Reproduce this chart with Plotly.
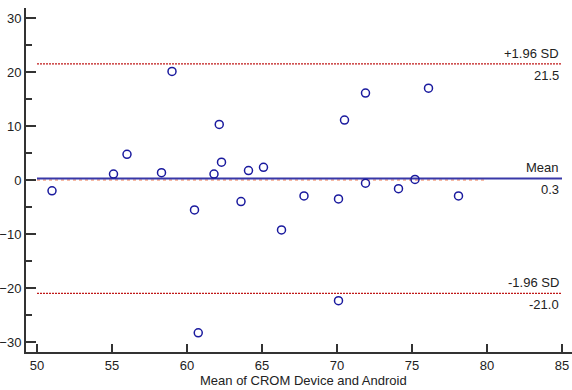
import plotly.graph_objects as go

mean_x = [51.0, 55.1, 56.0, 58.3, 59.0, 60.5, 60.75, 61.8, 62.15, 62.3, 63.6, 64.1,
          65.1, 66.3, 67.8, 70.1, 70.1, 70.5, 71.9, 71.9, 74.1, 75.2, 76.1, 78.1]
diff_y = [-2.0, 1.1, 4.75, 1.35, 20.1, -5.55, -28.3, 1.1, 10.3, 3.3, -4.0, 1.75,
          2.35, -9.25, -2.95, -3.5, -22.35, 11.1, 16.1, -0.6, -1.6, 0.1, 17.0, -2.95]

mean_diff = 0.3
upper_loa = 21.5
lower_loa = -21.0
line_x = [50, 85]
zero_x = [50, 80]

x_ticks = [50, 55, 60, 65, 70, 75, 80, 85]
y_ticks = [-30, -20, -10, 0, 10, 20, 30]

fig = go.Figure()

fig.add_trace(go.Scatter(x=zero_x, y=[0, 0], mode="lines",
                         line=dict(color="#F5A589", width=1.5, dash="dot"),
                         hoverinfo="skip", showlegend=False))
fig.add_trace(go.Scatter(x=line_x, y=[mean_diff, mean_diff], mode="lines",
                         line=dict(color="#3838A8", width=2),
                         hoverinfo="skip", showlegend=False))
fig.add_trace(go.Scatter(x=line_x, y=[upper_loa, upper_loa], mode="lines",
                         line=dict(color="#C01818", width=1.2, dash="2px,1px"),
                         hoverinfo="skip", showlegend=False))
fig.add_trace(go.Scatter(x=line_x, y=[lower_loa, lower_loa], mode="lines",
                         line=dict(color="#C01818", width=1.2, dash="2px,1px"),
                         hoverinfo="skip", showlegend=False))
fig.add_trace(go.Scatter(x=mean_x, y=diff_y, mode="markers",
                         marker=dict(symbol="circle-open", size=8,
                                     color="#1A1A9E", line=dict(width=1.5)),
                         showlegend=False))

font = dict(family="Arial, Liberation Sans, sans-serif", size=13, color="#222222")

labels = [("+1.96 SD", upper_loa, "bottom"), (f"{upper_loa:.1f}", upper_loa, "top"),
          ("Mean", mean_diff, "bottom"), (f"{mean_diff:.1f}", mean_diff, "top"),
          ("-1.96 SD", lower_loa, "bottom"), (f"{lower_loa:.1f}", lower_loa, "top")]
for txt, yv, anchor in labels:
    fig.add_annotation(x=85, y=yv, xref="x", yref="y", text=txt, showarrow=False,
                       xanchor="right", yanchor=anchor, xshift=-1,
                       yshift=1 if anchor == "bottom" else -2, font=font)

fig.add_annotation(x=0.508, y=-0.0814, xref="paper", yref="paper",
                   text="Mean of CROM Device and Android", showarrow=False,
                   xanchor="center", yanchor="middle", font=font)

fig.update_xaxes(range=[49.267, 85.667], tickvals=x_ticks, ticks="inside", ticklen=8,
                 tickwidth=2, tickcolor="#333333", showline=True, linewidth=2,
                 linecolor="#333333", showgrid=False, zeroline=False,
                 tickfont=font)
fig.update_yaxes(range=[-31.85, 31.85], tickvals=y_ticks, ticks="inside", ticklen=10,
                 tickwidth=2, tickcolor="#333333", showline=True, linewidth=2,
                 linecolor="#333333", showgrid=False, zeroline=False,
                 tickfont=font,
                 minor=dict(tickvals=[-25, -15, -5, 5, 15, 25], ticks="inside",
                            ticklen=6, tickwidth=1.5, tickcolor="#333333"))

fig.update_layout(width=572, height=390, margin=dict(l=26, r=0, t=8, b=38),
                  plot_bgcolor="white", paper_bgcolor="white", font=font)

fig.write_html("out.html")
